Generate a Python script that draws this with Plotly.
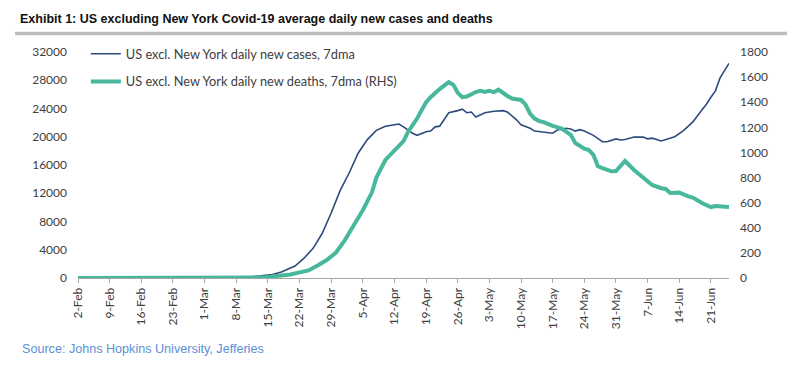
import plotly.graph_objects as go

# ---- data ----
case_dates = ["2020-02-02", "2020-02-09", "2020-02-16", "2020-02-23", "2020-03-01", "2020-03-05",
              "2020-03-08", "2020-03-11", "2020-03-14", "2020-03-16", "2020-03-18", "2020-03-21",
              "2020-03-23", "2020-03-25", "2020-03-27", "2020-03-29", "2020-03-31", "2020-04-02",
              "2020-04-04", "2020-04-06", "2020-04-08", "2020-04-10", "2020-04-12", "2020-04-13",
              "2020-04-14", "2020-04-16", "2020-04-17", "2020-04-19", "2020-04-20", "2020-04-21",
              "2020-04-22", "2020-04-24", "2020-04-26", "2020-04-27", "2020-04-28", "2020-04-29",
              "2020-04-30", "2020-05-02", "2020-05-04", "2020-05-06", "2020-05-07", "2020-05-08",
              "2020-05-09", "2020-05-10", "2020-05-12", "2020-05-13", "2020-05-15", "2020-05-17",
              "2020-05-18", "2020-05-20", "2020-05-21", "2020-05-22", "2020-05-23", "2020-05-24",
              "2020-05-26", "2020-05-28", "2020-05-29", "2020-05-30", "2020-05-31", "2020-06-01",
              "2020-06-02", "2020-06-04", "2020-06-06", "2020-06-07", "2020-06-08", "2020-06-10",
              "2020-06-12", "2020-06-13", "2020-06-15", "2020-06-17", "2020-06-19", "2020-06-20",
              "2020-06-21", "2020-06-22", "2020-06-23", "2020-06-25"]
case_values = [0, 0, 0, 5, 10, 30,
               60, 150, 300, 500, 850, 1700,
               2800, 4200, 6300, 9200, 12400, 14900,
               17700, 19600, 20900, 21500, 21700, 21800,
               21400, 20500, 20200, 20700, 20800, 21400,
               21500, 23400, 23700, 23900, 23400, 23500,
               22800, 23400, 23600, 23700, 23500, 23000,
               22400, 21700, 21200, 20800, 20600, 20500,
               20950, 21200, 21100, 20800, 21000, 20800,
               20200, 19300, 19300, 19500, 19700, 19550,
               19600, 19950, 19950, 19700, 19800, 19400,
               19800, 20000, 20900, 22100, 23800, 24600,
               25600, 26500, 28300, 30400]

death_dates = ["2020-02-02", "2020-02-16", "2020-03-01", "2020-03-10", "2020-03-14", "2020-03-17",
               "2020-03-20", "2020-03-22", "2020-03-24", "2020-03-26", "2020-03-28", "2020-03-30",
               "2020-04-01", "2020-04-03", "2020-04-05", "2020-04-07", "2020-04-08", "2020-04-10",
               "2020-04-12", "2020-04-14", "2020-04-15", "2020-04-17", "2020-04-19", "2020-04-20",
               "2020-04-22", "2020-04-23", "2020-04-24", "2020-04-25", "2020-04-26", "2020-04-27",
               "2020-04-28", "2020-04-30", "2020-05-01", "2020-05-02", "2020-05-03", "2020-05-04",
               "2020-05-05", "2020-05-07", "2020-05-08", "2020-05-10", "2020-05-11", "2020-05-12",
               "2020-05-13", "2020-05-14", "2020-05-15", "2020-05-17", "2020-05-19", "2020-05-21",
               "2020-05-22", "2020-05-24", "2020-05-25", "2020-05-26", "2020-05-27", "2020-05-28",
               "2020-05-30", "2020-05-31", "2020-06-02", "2020-06-04", "2020-06-06", "2020-06-08",
               "2020-06-10", "2020-06-11", "2020-06-12", "2020-06-14", "2020-06-16", "2020-06-17",
               "2020-06-19", "2020-06-21", "2020-06-22", "2020-06-23", "2020-06-25"]
death_values = [0, 0, 0, 1, 5, 16,
                28, 45, 60, 100, 143, 200,
                300, 420, 540, 680, 800, 940,
                1020, 1090, 1163, 1270, 1400, 1440,
                1505, 1530, 1560, 1540, 1475, 1440,
                1445, 1481, 1490, 1481, 1490, 1480,
                1500, 1450, 1430, 1418, 1380, 1310,
                1270, 1250, 1242, 1211, 1190, 1140,
                1075, 1030, 1019, 980, 890, 876,
                850, 852, 932, 860, 796, 741,
                715, 709, 677, 680, 650, 640,
                597, 565, 573, 568, 565]

tick_dates = ["2020-02-02", "2020-02-09", "2020-02-16", "2020-02-23", "2020-03-01", "2020-03-08",
              "2020-03-15", "2020-03-22", "2020-03-29", "2020-04-05", "2020-04-12", "2020-04-19",
              "2020-04-26", "2020-05-03", "2020-05-10", "2020-05-17", "2020-05-24", "2020-05-31",
              "2020-06-07", "2020-06-14", "2020-06-21"]
tick_labels = ["2-Feb", "9-Feb", "16-Feb", "23-Feb", "1-Mar", "8-Mar", "15-Mar", "22-Mar",
               "29-Mar", "5-Apr", "12-Apr", "19-Apr", "26-Apr", "3-May", "10-May", "17-May",
               "24-May", "31-May", "7-Jun", "14-Jun", "21-Jun"]

left_ticks = [0, 4000, 8000, 12000, 16000, 20000, 24000, 28000, 32000]
right_ticks = [0, 200, 400, 600, 800, 1000, 1200, 1400, 1600, 1800]

title_text = "Exhibit 1: US excluding New York Covid-19 average daily new cases and deaths"
source_text = "Source: Johns Hopkins University, Jefferies"
cases_name = "US excl. New York daily new cases, 7dma"
deaths_name = "US excl. New York daily new deaths, 7dma (RHS)"

BLUE = "#2E4B7C"
GREEN = "#47B89C"
AXIS_FONT = dict(family="Lato, 'Open Sans', sans-serif", size=12, color="#404040")

fig = go.Figure()
fig.add_trace(go.Scatter(x=case_dates, y=case_values, mode="lines", name=cases_name,
                         line=dict(color=BLUE, width=1.6), yaxis="y", legendgroup="a"))
fig.add_trace(go.Scatter(x=death_dates, y=death_values, mode="lines", name=deaths_name,
                         line=dict(color=GREEN, width=4), yaxis="y2", legendgroup="b"))

# page body adds an 8px offset; figure coordinates below are screen - 8
OFF = 8
W, H = 800 - OFF, 370 - OFF
L, T = 78 - OFF, 52 - OFF
R, B = W - (729 - OFF), H - (278 - OFF)
pw = W - L - R
ph = H - T - B


def px_x(sx):
    return (sx - OFF - L) / pw


def px_y(sy):
    return (H - B - (sy - OFF)) / ph


fig.update_layout(
    width=W, height=H,
    margin=dict(l=L, r=R, t=T, b=B, autoexpand=False),
    paper_bgcolor="white", plot_bgcolor="white",
    showlegend=True,
    legend=dict(x=0.012, y=px_y(39), xanchor="left", yanchor="top",
                font=dict(family="Lato, 'Open Sans', sans-serif", size=12.8, color="#404040"),
                bgcolor="rgba(0,0,0,0)", traceorder="grouped", tracegroupgap=8),
    xaxis=dict(type="date", range=["2020-02-02", "2020-06-25"],
               tickmode="array", tickvals=tick_dates, ticktext=tick_labels,
               tickangle=-90, tickfont=AXIS_FONT, ticks="outside", ticklen=4,
               tickcolor="#a6a6a6", showline=True, linecolor="#a6a6a6", linewidth=1,
               showgrid=False, zeroline=False),
    yaxis=dict(range=[0, 32000], tickmode="array", tickvals=left_ticks,
               ticktext=[str(v) for v in left_ticks], tickfont=AXIS_FONT,
               showgrid=False, zeroline=False, showline=False, ticks="",
               ticklabelstandoff=10),
    yaxis2=dict(range=[0, 1800], overlaying="y", side="right", tickmode="array",
                tickvals=right_ticks, ticktext=[str(v) for v in right_ticks], tickfont=AXIS_FONT,
                showgrid=False, zeroline=False, showline=False, ticks="",
                ticklabelstandoff=10),
    shapes=[dict(type="line", xref="paper", yref="paper",
                 x0=px_x(15), x1=px_x(787),
                 y0=px_y(33.5), y1=px_y(33.5),
                 line=dict(color="#bebebe", width=3.5), layer="above")],
    annotations=[
        dict(text="<b>" + title_text + "</b>", xref="paper", yref="paper",
             x=px_x(18), y=px_y(19), xanchor="left", yanchor="middle",
             showarrow=False, font=dict(family="Liberation Sans, Arial, sans-serif", size=12.5,
                                        color="#111111")),
        dict(text=source_text, xref="paper", yref="paper",
             x=px_x(20), y=px_y(349), xanchor="left", yanchor="middle",
             showarrow=False, font=dict(family="Liberation Sans, Arial, sans-serif", size=12.6,
                                        color="#5B8FD6")),
    ],
)

fig.write_html("out.html")
